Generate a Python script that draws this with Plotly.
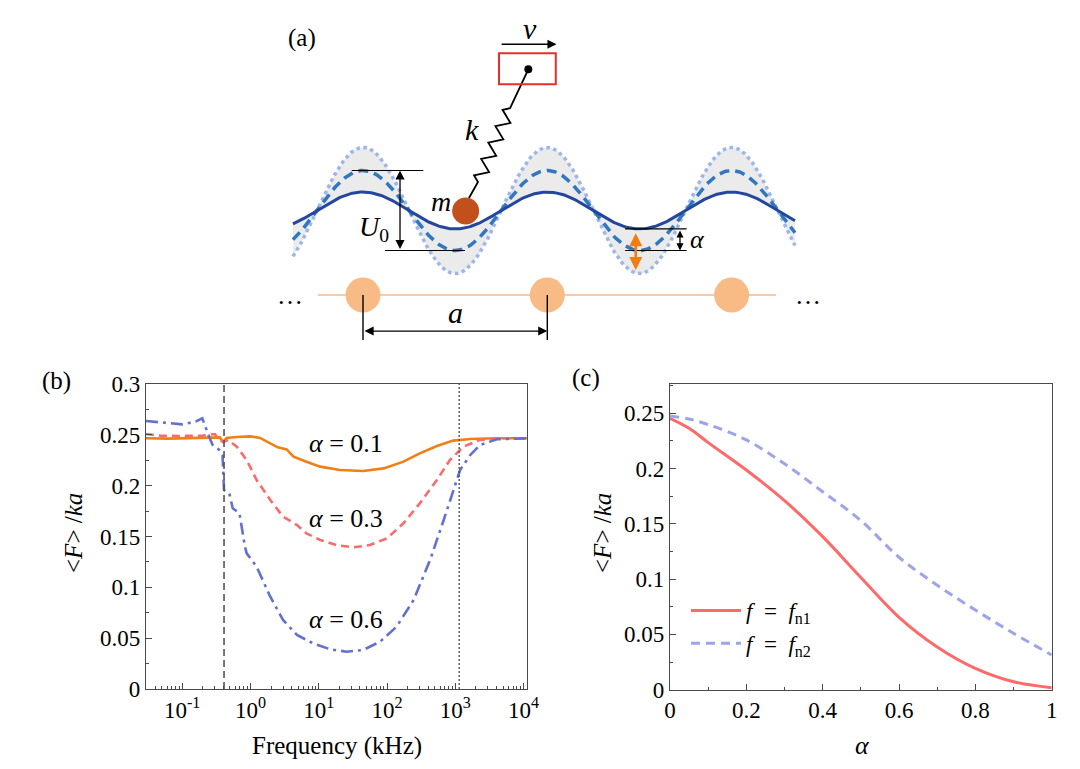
import numpy as np
import plotly.graph_objects as go

FONT = "Times New Roman, Liberation Serif, DejaVu Serif"
AXC = "#4a4a4a"

# ---------------- panel (b): <F>/ka against drive frequency (kHz)
freq_a01 = [0.0295, 0.063, 0.126, 0.251, 0.355, 0.398, 0.447, 0.631, 0.794, 1.0, 1.38, 1.95, 2.51,
            3.39, 4.27, 6.61, 10.5, 20.4, 44.7, 89.1, 174, 302, 537, 933, 1660, 4070, 11200]
force_a01 = [0.2466, 0.2463, 0.2468, 0.247, 0.2475, 0.243, 0.247, 0.2478, 0.2482, 0.2485, 0.247, 0.2416,
             0.2377, 0.2357, 0.2285, 0.2236, 0.2187, 0.2154, 0.2144, 0.217, 0.2236, 0.2318, 0.239,
             0.2443, 0.2459, 0.2466, 0.2466]

freq_a03 = [0.0295, 0.05, 0.1, 0.2, 0.3, 0.35, 0.4, 0.47, 0.63, 0.88, 1.23, 1.95, 3.0, 4.8, 6.6, 10.5,
            18.2, 32.4, 56, 100, 174, 302, 537, 832, 1320, 2290, 5130, 11200]
force_a03 = [0.2508, 0.249, 0.2489, 0.2492, 0.2508, 0.245, 0.243, 0.2449, 0.2384, 0.2252, 0.2056, 0.1859,
             0.1695, 0.1613, 0.1531, 0.1466, 0.1416, 0.1393, 0.1416, 0.1482, 0.163, 0.1826, 0.2056,
             0.2252, 0.2384, 0.245, 0.2466, 0.2466]

freq_a06 = [0.0295, 0.0525, 0.1, 0.157, 0.197, 0.248, 0.279, 0.35, 0.39, 0.41, 0.49, 0.55, 0.69, 0.83,
            0.88, 1.23, 1.95, 3.0, 4.8, 8.3, 14.8, 25.7, 44.7, 79.4, 138, 245, 427, 676, 933, 1175,
            1660, 2290, 4070, 11200]
force_a06 = [0.2636, 0.262, 0.2603, 0.263, 0.2662, 0.2482, 0.24, 0.2351, 0.23, 0.1957, 0.1925, 0.1777,
             0.1728, 0.14, 0.1334, 0.1203, 0.0908, 0.0679, 0.0531, 0.0449, 0.039, 0.0367, 0.0384,
             0.0466, 0.0613, 0.0875, 0.1269, 0.1662, 0.1957, 0.2154, 0.2302, 0.24, 0.2456, 0.2466]

fn1_khz = 0.41
fn2_khz = 1140
decades = [0.1, 1, 10, 100, 1000, 10000]
decade_text = ["10<sup>-1</sup>", "10<sup>0</sup>", "10<sup>1</sup>", "10<sup>2</sup>",
               "10<sup>3</sup>", "10<sup>4</sup>"]

# ---------------- panel (c): <F>/ka against alpha
alpha = [0, 0.05, 0.1, 0.2, 0.3, 0.4, 0.5, 0.6, 0.7, 0.8, 0.9, 1.0]
force_fn1 = [0.2455, 0.2364, 0.2235, 0.1987, 0.171, 0.1384, 0.1015, 0.0655, 0.0387, 0.0193, 0.0072, 0.0018]
force_fn2 = [0.2475, 0.2448, 0.2398, 0.2259, 0.2043, 0.1791, 0.153, 0.1198, 0.0945, 0.0721, 0.051, 0.0314]

# ---------------- panel (a): schematic, lengths in units of the lattice constant a
atom_x = [0, 1, 2]
chain_y = -0.4585
chain_ends = [-0.244, 2.241]
wave_ends = [-0.38, 2.344]
wave_amp = {"solid": 0.10, "dash": 0.217, "dot": 0.342}
mass_xy = (0.557, -0.003)
pin_xy = (0.897, 0.766)
spring_p1 = (0.798, 0.555)
spring_p2 = (0.624, 0.155)
mass_top = (0.575, 0.068)
n_corners, coil_amp = 9, 0.034
box_x = [0.738, 1.046]
box_y = [0.685, 0.853]

fig = go.Figure()

# ---- panel (a)
xs = np.linspace(wave_ends[0], wave_ends[1], 400)
solid = wave_amp["solid"] * np.cos(2 * np.pi * xs)
dashed = wave_amp["dash"] * np.cos(2 * np.pi * xs)
dotted = wave_amp["dot"] * np.cos(2 * np.pi * xs)
a_ax = dict(xaxis="x3", yaxis="y3", showlegend=False, hoverinfo="skip")
fig.add_trace(go.Scatter(x=xs, y=solid, mode="lines", line=dict(width=0), **a_ax))
fig.add_trace(go.Scatter(x=xs, y=dotted, mode="lines", fill="tonexty", fillcolor="#ebebeb",
                         line=dict(color="#9cb5ea", width=3.5, dash="dot"), **a_ax))
fig.add_trace(go.Scatter(x=xs, y=dashed, mode="lines",
                         line=dict(color="#2f78c0", width=3.5, dash="10px,6px"), **a_ax))
fig.add_trace(go.Scatter(x=xs, y=solid, mode="lines", line=dict(color="#24479d", width=3), **a_ax))

# chain of substrate atoms
fig.add_trace(go.Scatter(x=chain_ends, y=[chain_y, chain_y], mode="lines",
                         line=dict(color="#f8b88a", width=1.3), **a_ax))
fig.add_trace(go.Scatter(x=atom_x, y=[chain_y] * len(atom_x), mode="markers",
                         marker=dict(size=35, color="#f9bb86"), **a_ax))

# spring from the pulling stage to the mass
p1, p2 = np.array(spring_p1), np.array(spring_p2)
d = p2 - p1
nrm = np.array([-d[1], d[0]]) / np.hypot(*d)
coil = [p1 + d * (i - 0.5) / n_corners + nrm * coil_amp * (-1) ** i for i in range(1, n_corners + 1)]
spring = np.array([pin_xy, spring_p1] + coil + [spring_p2, mass_top])
fig.add_trace(go.Scatter(x=spring[:, 0], y=spring[:, 1], mode="lines",
                         line=dict(color="black", width=1.8), **a_ax))
fig.add_trace(go.Scatter(x=[pin_xy[0]], y=[pin_xy[1]], mode="markers",
                         marker=dict(size=8, color="black"), **a_ax))
fig.add_trace(go.Scatter(x=[mass_xy[0]], y=[mass_xy[1]], mode="markers",
                         marker=dict(size=27, color="#c2501b"), **a_ax))

shapes = [
    dict(type="rect", xref="x3", yref="y3", x0=box_x[0], x1=box_x[1], y0=box_y[0], y1=box_y[1],
         line=dict(color="#e3312b", width=2)),
    dict(type="line", xref="x3", yref="y3", x0=-0.061, x1=0.327, y0=0.217, y1=0.217,
         line=dict(color="black", width=1.2)),
    dict(type="line", xref="x3", yref="y3", x0=0.119, x1=0.553, y0=-0.217, y1=-0.217,
         line=dict(color="black", width=1.2)),
    dict(type="line", xref="x3", yref="y3", x0=1.422, x1=1.756, y0=-0.1, y1=-0.1,
         line=dict(color="black", width=1.2)),
    dict(type="line", xref="x3", yref="y3", x0=1.422, x1=1.756, y0=-0.217, y1=-0.217,
         line=dict(color="black", width=1.2)),
]
for ax_ in atom_x[:2]:
    shapes.append(dict(type="line", xref="x3", yref="y3", x0=ax_, x1=ax_, y0=chain_y, y1=-0.703,
                       line=dict(color="black", width=1.4)))


def arrow(x0, y0, x1, y1, color="black", width=1.3, both=True, size=1.4):
    return dict(x=x1, y=y1, ax=x0, ay=y0, xref="x3", yref="y3", axref="x3", ayref="y3", text="",
                showarrow=True, arrowhead=2, arrowsize=size, arrowwidth=width, arrowcolor=color,
                arrowside="end+start" if both else "end", startarrowhead=2, startarrowsize=size)


def label(x, y, text, size=25, ref="3"):
    return dict(x=x, y=y, xref="x" + ref, yref="y" + ref, text=text, showarrow=False,
                xanchor="center", yanchor="middle",
                font=dict(family=FONT, size=size, color="black"))


annotations = [
    arrow(0.2008, -0.217, 0.2008, 0.217),
    arrow(0, -0.654, 1, -0.654),
    arrow(0.744, 0.902, 1.05, 0.902, both=False),
    arrow(1.72, -0.1, 1.72, -0.217, size=1.1),
    arrow(1.48, -0.115, 1.48, -0.323, color="#f07d0e", width=2.6, size=1.0),
    label(0.906, 0.99, "<i>v</i>", 30),
    label(0.59, 0.437, "<i>k</i>", 30),
    label(0.425, 0.048, "<i>m</i>", 28),
    label(0.06, -0.095, "<i>U</i><sub>0</sub>", 28),
    label(0.5, -0.556, "<i>a</i>", 30),
    label(1.815, -0.16, "<i>α</i>", 26),
    label(-0.395, chain_y, "…", 26),
    label(2.415, chain_y, "…", 26),
]

# ---- panel (b)
fig.add_trace(go.Scatter(x=freq_a01, y=force_a01, mode="lines", line=dict(color="#f07f14", width=2.6),
                         showlegend=False))
fig.add_trace(go.Scatter(x=freq_a03, y=force_a03, mode="lines",
                         line=dict(color="#fb6b6b", width=2.6, dash="8px,5px"), showlegend=False))
fig.add_trace(go.Scatter(x=freq_a06, y=force_a06, mode="lines",
                         line=dict(color="#6270cf", width=2.6, dash="12px,5px,3px,5px"), showlegend=False))
fig.add_trace(go.Scatter(x=[fn1_khz, fn1_khz], y=[0, 0.3], mode="lines",
                         line=dict(color="#555555", width=1.6, dash="7px,4px"), showlegend=False))
fig.add_trace(go.Scatter(x=[fn2_khz, fn2_khz], y=[0, 0.3], mode="lines",
                         line=dict(color="#555555", width=1.4, dash="2px,2px"), showlegend=False))
for yv, alpha_txt in [(0.2416, "0.1"), (0.1679, "0.3"), (0.0679, "0.6")]:
    annotations.append(label(1.396, yv, "<i>α</i> = " + alpha_txt, 26, ref=""))

# ---- panel (c)
fig.add_trace(go.Scatter(x=alpha, y=force_fn1, mode="lines", line=dict(color="#fd6a6a", width=3, shape="spline"),
                         name="<i>f</i>&nbsp; = &nbsp;<i>f</i><sub>n1</sub>", xaxis="x2", yaxis="y2"))
fig.add_trace(go.Scatter(x=alpha, y=force_fn2, mode="lines",
                         line=dict(color="#9ea4e8", width=3, dash="9px,6px", shape="spline"),
                         name="<i>f</i>&nbsp; = &nbsp;<i>f</i><sub>n2</sub>", xaxis="x2", yaxis="y2"))


def paper(x, y, text, size=24, angle=0):
    return dict(x=x / 1080, y=1 - y / 769, xref="paper", yref="paper", text=text, showarrow=False,
                xanchor="center", yanchor="middle", textangle=angle,
                font=dict(family=FONT, size=size, color="black"))


annotations += [
    paper(302, 38, "(a)", 25),
    paper(56, 381, "(b)", 25),
    paper(586, 378, "(c)", 25),
    paper(337, 746, "Frequency (kHz)", 25),
    paper(73, 533, "&lt;<i>F</i>&gt; /<i>ka</i>", 25, -90),
    paper(602, 533, "&lt;<i>F</i>&gt; /<i>ka</i>", 25, -90),
    paper(862, 745, "<i>α</i>", 26),
]

minor_log = [m * d for d in [0.01, 0.1, 1, 10, 100, 1000] for m in range(2, 10)]
frame = dict(showline=True, mirror=True, linecolor=AXC, linewidth=1.3, ticks="inside", ticklen=6,
             tickcolor=AXC, tickwidth=1.2, showgrid=False, zeroline=False, automargin=False,
             tickfont=dict(family=FONT, size=23, color="black"))

fig.update_layout(
    template="none",
    width=1080, height=769, margin=dict(l=0, r=0, t=0, b=0, pad=0),
    paper_bgcolor="white", plot_bgcolor="white",
    font=dict(family=FONT, color="black"),
    xaxis=dict(type="log", domain=[146 / 1080, 527 / 1080], range=[-1.53, 4.05],
               tickvals=decades, ticktext=decade_text,
               minor=dict(tickmode="array", tickvals=minor_log, ticks="inside", ticklen=3,
                          tickcolor=AXC), **frame),
    yaxis=dict(domain=[1 - 689 / 769, 1 - 384 / 769], range=[0, 0.3], dtick=0.05,
               minor=dict(dtick=0.025, ticks="inside", ticklen=3, tickcolor=AXC), **frame),
    xaxis2=dict(domain=[670 / 1080, 1051.7 / 1080], range=[0, 1], dtick=0.2, anchor="y2",
                minor=dict(dtick=0.1, ticks="inside", ticklen=3, tickcolor=AXC), **frame),
    yaxis2=dict(domain=[1 - 689.7 / 769, 1 - 384 / 769], range=[0, 0.2765], dtick=0.05, anchor="x2",
                minor=dict(dtick=0.025, ticks="inside", ticklen=3, tickcolor=AXC), **frame),
    xaxis3=dict(domain=[0, 1], range=[-1.9696, 3.8904], visible=False, anchor="y3", automargin=False),
    yaxis3=dict(domain=[1 - 345 / 769, 1], range=[-0.7298, 1.1422], visible=False, anchor="x3",
                automargin=False),
    showlegend=True,
    legend=dict(x=686 / 1080, y=1 - 589 / 769, xanchor="left", yanchor="top", traceorder="normal",
                bgcolor="rgba(0,0,0,0)", font=dict(family=FONT, size=23), itemwidth=50,
                tracegroupgap=2),
    shapes=shapes,
    annotations=annotations,
)

fig.write_html("out.html", config={"displayModeBar": False},
               post_script="document.body.style.margin = '0';")
